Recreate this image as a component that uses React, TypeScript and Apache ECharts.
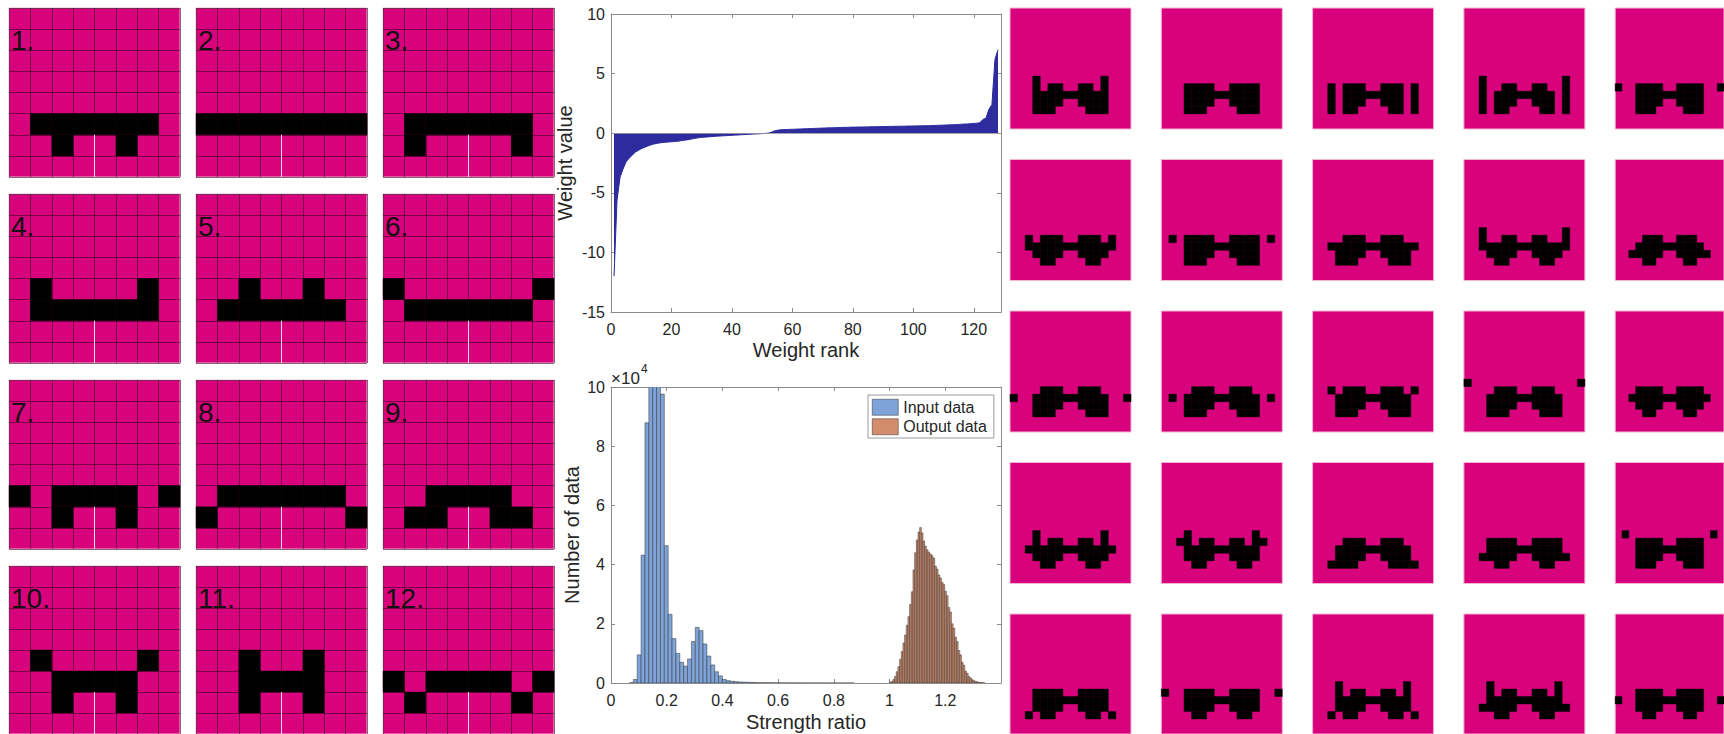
import React, { useEffect, useRef } from "react";
import * as echarts from "echarts";

// ---------------- data ----------------
// sorted weight values, rank 1..128
const weightValues = [
  -12.0, -5.6, -3.7, -3.0, -2.4, -2.1, -1.85, -1.6, -1.45, -1.3,
  -1.2, -1.1, -1.0, -0.92, -0.86, -0.82, -0.78, -0.76, -0.74, -0.72,
  -0.7, -0.68, -0.64, -0.6, -0.56, -0.52, -0.47, -0.42, -0.38, -0.35,
  -0.33, -0.31, -0.29, -0.27, -0.25, -0.24, -0.22, -0.21, -0.19, -0.18,
  -0.16, -0.15, -0.13, -0.12, -0.1, -0.09, -0.07, -0.06, -0.05, -0.03,
  -0.02, 0.0, 0.08, 0.18, 0.25, 0.28, 0.3, 0.31, 0.32, 0.33,
  0.34, 0.35, 0.36, 0.37, 0.38, 0.39, 0.4, 0.41, 0.42, 0.43,
  0.44, 0.45, 0.45, 0.46, 0.47, 0.48, 0.49, 0.49, 0.5, 0.51,
  0.51, 0.52, 0.52, 0.53, 0.53, 0.54, 0.54, 0.55, 0.55, 0.56,
  0.56, 0.57, 0.57, 0.58, 0.58, 0.59, 0.59, 0.6, 0.6, 0.61,
  0.61, 0.62, 0.62, 0.63, 0.63, 0.64, 0.65, 0.66, 0.67, 0.68,
  0.69, 0.7, 0.71, 0.72, 0.74, 0.75, 0.77, 0.78, 0.8, 0.82,
  0.84, 0.88, 1.15, 1.25, 2.0, 2.4, 6.2, 7.0,
];

// histogram counts in units of 10^4
const inputBinStart = 0.0663;
const inputBinWidth = 0.0139;
const inputCounts = [
  0.01, 0.12, 0.95, 4.32, 8.79, 10.6, 11.0, 10.5, 9.76, 4.64,
  2.32, 1.5, 1.0, 0.7, 0.57, 0.81, 1.4, 1.88, 1.77, 1.32,
  0.91, 0.61, 0.38, 0.24, 0.12, 0.08, 0.06, 0.045, 0.035, 0.03,
  0.025, 0.02, 0.015, 0.012, 0.01, 0.01, 0.008, 0.007, 0.006, 0.005,
  0.004, 0.004, 0.003, 0.003, 0.003, 0.002, 0.002, 0.002, 0.002, 0.002,
  0.001, 0.001, 0.001, 0.001, 0.001, 0.001, 0.001, 0.001,
];
const outputBinStart = 1.0;
const outputBinWidth = 0.006;
const outputCounts = [
  0.02, 0.05, 0.12, 0.22, 0.38, 0.55, 0.8, 1.06, 1.35, 1.62,
  1.95, 2.24, 2.65, 3.08, 3.82, 4.4, 4.83, 5.1, 5.25, 5.07,
  4.8, 4.62, 4.5, 4.42, 4.36, 4.3, 4.22, 3.95, 3.85, 3.65,
  3.55, 3.4, 3.33, 3.1, 2.95, 2.55, 2.4, 2.0, 1.85, 1.55,
  1.4, 1.1, 0.95, 0.7, 0.6, 0.4, 0.33, 0.22, 0.17, 0.11,
  0.08, 0.05, 0.04, 0.02, 0.015, 0.01, 0.005,
];
const histNames = ["Input data", "Output data"];

// input patterns (8x8 grids), rows 4..6 listed ('#' = black)
const inputTileLabels = ["1.", "2.", "3.", "4.", "5.", "6.", "7.", "8.", "9.", "10.", "11.", "12."];
const inputFirstRow = 4;
const inputPatterns = [
  ["........", ".######.", "..#..#.."],
  ["........", "########", "........"],
  ["........", ".######.", ".#....#."],
  [".#....#.", ".######.", "........"],
  ["..#..#..", ".######.", "........"],
  ["#......#", ".######.", "........"],
  ["........", "#.####.#", "..#..#.."],
  ["........", ".######.", "#......#"],
  ["........", "..####..", ".##..##."],
  [".#....#.", "..####..", "..#..#.."],
  ["..#..#..", "..####..", "..#..#.."],
  ["........", "#.####.#", ".#....#."],
];

// output patterns (16x16 images), rows 9..13 listed
const outputFirstRow = 9;
const outputPatterns = [
  ["...#........#...", "...#.##..##.#...", "...##########...", "...####..####...", "...###....###..."],
  ["................", "...####..####...", "...##########...", "...####..####...", "...###....###..."],
  ["................", "..#.###..###.#..", "..#.########.#..", "..#.###..###.#..", "..#.##....##.#.."],
  ["..#..........#..", "..#..##..##..#..", "..#.########.#..", "..#.###..###.#..", "..#.##....##.#.."],
  ["................", "#..####..####..#", "...##########...", "...####..####...", "...###....###..."],
  ["................", "..#.###..###.#..", "..############..", "...####..####...", "....##....##...."],
  ["................", ".#.####..####.#.", "...##########...", "...####..####...", "...###....###..."],
  ["................", "....###..###....", "..############..", "...####..####...", "...###....###..."],
  ["..#..........#..", "..#..##..##..#..", "..############..", "...####..####...", "....##....##...."],
  ["................", "....###..###....", "...##########...", "..#####..#####..", "....##....##...."],
  ["................", "....###..###....", "#..##########..#", "...####..####...", "...###....###..."],
  ["................", "....###..###....", ".#.##########.#.", "...####..####...", "...###....###..."],
  ["................", "..#.###..###.#..", "...##########...", "...####..####...", "...###....###..."],
  ["#..............#", "....###..###....", "...##########...", "...####..####...", "...###....###..."],
  ["................", "...####..####...", "..############..", "...####..####...", "....##....##...."],
  ["...#........#...", "...#.##..##.#...", "..############..", "...####..####...", "....##....##...."],
  ["...#........#...", "..##.##..##.##..", "...##########...", "...####..####...", "....##....##...."],
  ["................", "....###..###....", "...##########...", "...####..####...", "..####....####.."],
  ["................", "...####..####...", "...##########...", "..#####..#####..", "....##....##...."],
  [".#............#.", "...####..####...", "...##########...", "...####..####...", "...###....###..."],
  ["................", "...####..####...", "...##########...", "...####..####...", "..#.##....##.#.."],
  ["................", "#..####..####..#", "...##########...", "...####..####...", "....##....##...."],
  ["...#........#...", "...#.##..##.#...", "...##########...", "...####..####...", "..#.##....##.#.."],
  ["...#........#...", "...#.##..##.#...", "...##########...", "..#####..#####..", "....##....##...."],
  ["................", "...####..####...", "#..##########..#", "...####..####...", "....##....##...."],
];

// ---------------- styling / layout ----------------
const FONT = "'Liberation Sans', Arial, Helvetica, sans-serif";
const MAGENTA = "#d8037c";
const TILE_BORDER = "#f1b5d2";
const GRIDLINE = "rgba(45,0,28,0.55)";
const AXIS = "#8c8c8c";
const TEXT = "#262626";
const AREA = "#2e2b9e";
const INPUT_COLOR = "#7ea3d8";
const OUTPUT_COLOR = "#d48d6c";
const EDGE = "#333333";

const LT = { x0: 9, y0: 8, dx: 187, dy: 186, w: 171, h: 169 };
const RT = { x0: 1010, y0: 8, dx: 151.3, dy: 151.5, size: 121 };

function cellsOf(pattern: string[], firstRow: number): number[][] {
  const cells: number[][] = [];
  pattern.forEach((row, r) => {
    for (let c = 0; c < row.length; c++) if (row[c] === "#") cells.push([c, r + firstRow]);
  });
  return cells;
}

const cellRender = (_p: any, api: any) => {
  const c = api.value(0);
  const r = api.value(1);
  const a = api.coord([c, r]);
  const b = api.coord([c + 1, r + 1]);
  return {
    type: "rect",
    shape: {
      x: Math.min(a[0], b[0]),
      y: Math.min(a[1], b[1]),
      width: Math.abs(b[0] - a[0]),
      height: Math.abs(b[1] - a[1]),
    },
    style: { fill: "#000", stroke: "#000", lineWidth: 0.4 },
  };
};

const histRender = (fill: string) => (_p: any, api: any) => {
  const x0 = api.value(0);
  const x1 = api.value(1);
  const y = api.value(2);
  const a = api.coord([x0, y]);
  const b = api.coord([x1, 0]);
  return {
    type: "rect",
    shape: { x: a[0], y: a[1], width: b[0] - a[0], height: b[1] - a[1] },
    style: { fill, stroke: EDGE, lineWidth: 0.5 },
  };
};

function boxAxis(gridIndex: number, position: string, min: number, max: number, interval: number, withLabels: boolean, extra: any = {}) {
  return {
    gridIndex,
    position,
    type: "value",
    min,
    max,
    interval,
    axisLine: { show: true, onZero: false, lineStyle: { color: AXIS, width: 1 } },
    axisTick: { show: true, inside: true, length: 4, lineStyle: { color: AXIS, width: 1 } },
    splitLine: { show: false },
    axisLabel: {
      show: withLabels,
      color: TEXT,
      fontSize: 16,
      fontFamily: FONT,
      showMaxLabel: position === "bottom" ? false : true,
      margin: position === "bottom" ? 9 : 6,
    },
    ...extra,
  };
}

export default function App() {
  const ref = useRef<HTMLDivElement>(null);

  useEffect(() => {
    if (!ref.current) return;
    const chart = echarts.init(ref.current, null, { renderer: "svg" });

    const grids: any[] = [];
    const xAxes: any[] = [];
    const yAxes: any[] = [];
    const series: any[] = [];
    const graphics: any[] = [];

    // ---- grid 0: weight distribution ----
    grids.push({ left: 611, top: 14, width: 390, height: 298, show: false });
    xAxes.push(
      boxAxis(0, "bottom", 0, 129, 20, true, {
        name: "Weight rank",
        nameLocation: "middle",
        nameGap: 28,
        nameTextStyle: { fontSize: 20, color: TEXT, fontFamily: FONT },
      })
    );
    xAxes.push(boxAxis(0, "top", 0, 129, 20, false));
    yAxes.push(
      boxAxis(0, "left", -15, 10, 5, true, {
        name: "Weight value",
        nameLocation: "middle",
        nameRotate: 90,
        nameGap: 36,
        nameTextStyle: { fontSize: 20, color: TEXT, fontFamily: FONT },
      })
    );
    yAxes.push(boxAxis(0, "right", -15, 10, 5, false));

    // ---- grid 1: histogram ----
    grids.push({ left: 611, top: 387, width: 390, height: 296, show: false });
    xAxes.push(
      boxAxis(1, "bottom", 0, 1.4, 0.2, true, {
        name: "Strength ratio",
        nameLocation: "middle",
        nameGap: 29,
        nameTextStyle: { fontSize: 20, color: TEXT, fontFamily: FONT },
      })
    );
    xAxes.push(boxAxis(1, "top", 0, 1.4, 0.2, false));
    yAxes.push(
      boxAxis(1, "left", 0, 10, 2, true, {
        name: "Number of data",
        nameLocation: "middle",
        nameRotate: 90,
        nameGap: 29,
        nameTextStyle: { fontSize: 20, color: TEXT, fontFamily: FONT },
      })
    );
    yAxes.push(boxAxis(1, "right", 0, 10, 2, false));

    series.push({
      type: "line",
      xAxisIndex: 0,
      yAxisIndex: 0,
      data: weightValues.map((v, i) => [i + 1, v]),
      symbol: "none",
      lineStyle: { color: AREA, width: 1 },
      itemStyle: { color: AREA },
      areaStyle: { color: AREA, opacity: 1 },
      markLine: {
        silent: true,
        symbol: "none",
        label: { show: false },
        lineStyle: { color: "#9a9a9a", width: 0.8, type: "solid" },
        data: [{ yAxis: 0 }],
      },
      z: 3,
    });

    series.push({
      type: "custom",
      name: histNames[0],
      xAxisIndex: 2,
      yAxisIndex: 2,
      clip: true,
      encode: { x: [0, 1], y: 2 },
      itemStyle: { color: INPUT_COLOR },
      renderItem: histRender(INPUT_COLOR),
      data: inputCounts.map((c, i) => [inputBinStart + i * inputBinWidth, inputBinStart + (i + 1) * inputBinWidth, c]),
    });
    series.push({
      type: "custom",
      name: histNames[1],
      xAxisIndex: 2,
      yAxisIndex: 2,
      clip: true,
      encode: { x: [0, 1], y: 2 },
      itemStyle: { color: OUTPUT_COLOR },
      renderItem: histRender(OUTPUT_COLOR),
      data: outputCounts.map((c, i) => [outputBinStart + i * outputBinWidth, outputBinStart + (i + 1) * outputBinWidth, c]),
    });

    graphics.push({
      type: "text",
      x: 611,
      y: 378,
      style: { text: "×10", fontSize: 17, fontFamily: FONT, fill: TEXT, verticalAlign: "middle" },
    });
    graphics.push({
      type: "text",
      x: 641,
      y: 369,
      style: { text: "4", fontSize: 12, fontFamily: FONT, fill: TEXT, verticalAlign: "middle" },
    });

    // ---- left input tiles ----
    inputPatterns.forEach((pat, i) => {
      const col = i % 3;
      const row = Math.floor(i / 3);
      const left = LT.x0 + col * LT.dx;
      const top = LT.y0 + row * LT.dy;
      const g = grids.length;
      grids.push({
        left,
        top,
        width: LT.w,
        height: LT.h,
        show: true,
        backgroundColor: MAGENTA,
        borderColor: TILE_BORDER,
        borderWidth: 1,
      });
      const ax = {
        gridIndex: g,
        type: "value",
        min: 0,
        max: 8,
        interval: 1,
        axisLine: { show: false },
        axisTick: { show: false },
        axisLabel: { show: false },
        splitLine: { show: true, lineStyle: { color: GRIDLINE, width: 1 } },
      };
      const xi = xAxes.length;
      xAxes.push({ ...ax });
      const yi = yAxes.length;
      yAxes.push({ ...ax, inverse: true });
      series.push({
        type: "custom",
        xAxisIndex: xi,
        yAxisIndex: yi,
        clip: false,
        renderItem: cellRender,
        data: cellsOf(pat, inputFirstRow),
        z: 3,
      });
      series.push({
        type: "custom",
        xAxisIndex: xi,
        yAxisIndex: yi,
        clip: false,
        encode: { x: 0, y: [1, 2] },
        renderItem: (_p: any, api: any) => {
          const a = api.coord([api.value(0), api.value(1)]);
          const b = api.coord([api.value(0), api.value(2)]);
          return {
            type: "line",
            shape: { x1: a[0], y1: a[1], x2: b[0], y2: b[1] },
            style: { stroke: "#ece2e8", lineWidth: 1 },
          };
        },
        data: [[4, 6, 8]],
        z: 4,
      });
      graphics.push({
        type: "text",
        x: left + 2,
        y: top + 32,
        z: 20,
        style: {
          text: inputTileLabels[i],
          fontSize: 28,
          fontFamily: FONT,
          fill: "#111",
          verticalAlign: "middle",
        },
      });
    });

    // ---- right output tiles ----
    outputPatterns.forEach((pat, i) => {
      const col = i % 5;
      const row = Math.floor(i / 5);
      const left = RT.x0 + col * RT.dx;
      const top = RT.y0 + row * RT.dy;
      const g = grids.length;
      grids.push({
        left,
        top,
        width: RT.size,
        height: RT.size,
        show: true,
        backgroundColor: MAGENTA,
        borderColor: TILE_BORDER,
        borderWidth: 1,
      });
      const ax = {
        gridIndex: g,
        type: "value",
        min: 0,
        max: 16,
        interval: 1,
        axisLine: { show: false },
        axisTick: { show: false },
        axisLabel: { show: false },
        splitLine: { show: false },
      };
      const xi = xAxes.length;
      xAxes.push({ ...ax });
      const yi = yAxes.length;
      yAxes.push({ ...ax, inverse: true });
      series.push({
        type: "custom",
        xAxisIndex: xi,
        yAxisIndex: yi,
        clip: false,
        renderItem: cellRender,
        data: cellsOf(pat, outputFirstRow),
        z: 3,
      });
    });

    chart.setOption({
      animation: false,
      backgroundColor: "#ffffff",
      textStyle: { fontFamily: FONT },
      grid: grids,
      xAxis: xAxes,
      yAxis: yAxes,
      series,
      graphic: graphics,
      legend: {
        data: histNames,
        orient: "vertical",
        left: 868,
        top: 395,
        icon: "rect",
        itemWidth: 26,
        itemHeight: 16,
        itemGap: 3,
        padding: [4, 7, 3, 4],
        backgroundColor: "#ffffff",
        borderColor: "#9a9a9a",
        borderWidth: 1,
        selectedMode: false,
        itemStyle: { borderColor: EDGE, borderWidth: 0.5 },
        textStyle: { fontSize: 16, color: TEXT, fontFamily: FONT },
      },
    });

    return () => chart.dispose();
  }, []);

  return (
    <div
      ref={ref}
      style={{ position: "absolute", left: 0, top: 0, width: 1724, height: 734 }}
    />
  );
}
